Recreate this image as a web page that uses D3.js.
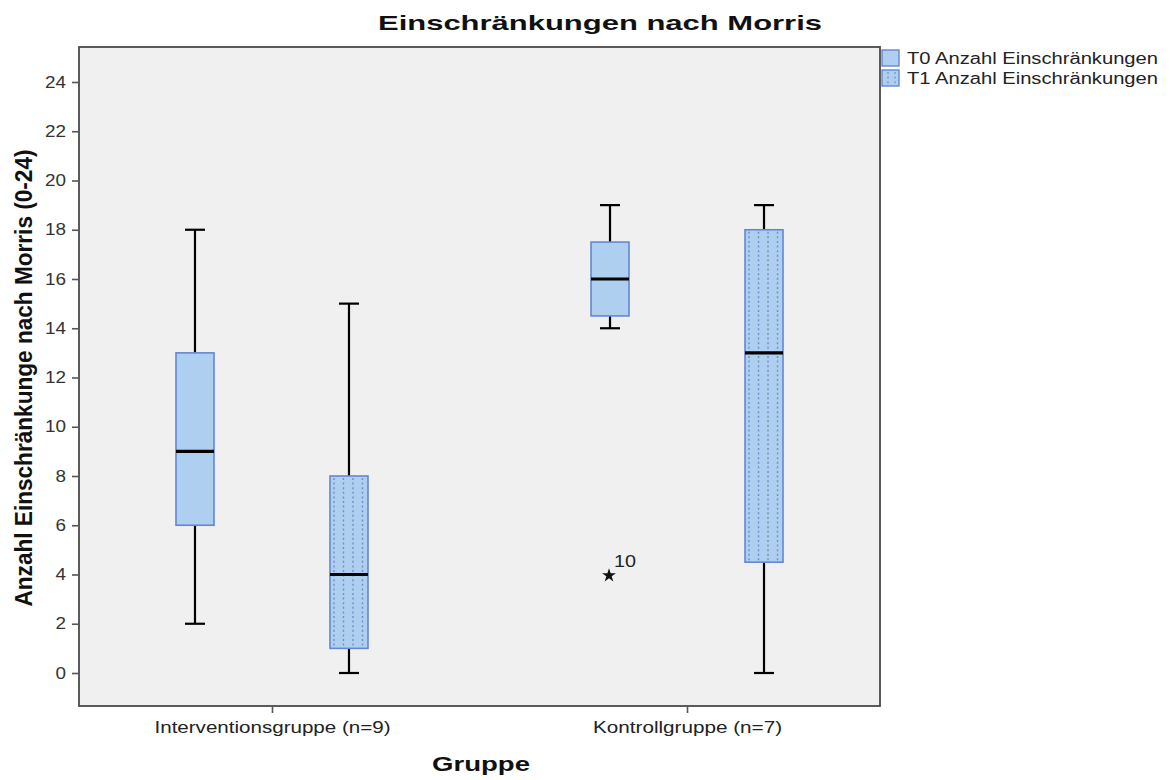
<!DOCTYPE html>
<html>
<head>
<meta charset="utf-8">
<script src="https://cdn.jsdelivr.net/npm/d3@7"></script>
<style>
  body { margin: 0; background: #ffffff; }
  text { font-family: "Liberation Sans", Arial, sans-serif; }
</style>
</head>
<body>
<svg id="chart" width="1170" height="780"></svg>
<script>
// Groups and series
const groups = ["Interventionsgruppe (n=9)", "Kontrollgruppe (n=7)"];
const seriesNames = ["T0 Anzahl Einschränkungen", "T1 Anzahl Einschränkungen"];
const seriesKeys = ["T0", "T1"];

// Box statistics per group: [lower whisker, Q1, median, Q3, upper whisker]
const t0Stats = [[2, 6, 9, 13, 18], [14, 14.5, 16, 17.5, 19]];
const t1Stats = [[0, 1, 4, 8, 15], [0, 4.5, 13, 18, 19]];

// Extreme values (case number shown next to the star)
const extremeGroups = ["Kontrollgruppe (n=7)"];
const extremeSeries = ["T0"];
const extremeValues = [4];
const extremeCases = ["10"];

const yTicks = [0, 2, 4, 6, 8, 10, 12, 14, 16, 18, 20, 22, 24];

const title = "Einschränkungen nach Morris";
const yTitle = "Anzahl Einschränkunge nach Morris (0-24)";
const xTitle = "Gruppe";

// ---- layout ----
const frame = { left: 79, right: 880, top: 47, bottom: 706 };
const boxWidth = 38;
const capWidth = 20;
const fillColor = "#aecff0";
const strokeColor = "#6487d3";
const dotColor = "#6f8fc4";

const svg = d3.select("#chart");

const y = d3.scaleLinear().domain([0, 24]).range([673, 82]);
const x = d3.scalePoint().domain(groups).range([frame.left, frame.right]).padding(0.465);
const offset = d3.scalePoint().domain(seriesKeys).range([-77, 77]);

// plot area
svg.append("rect")
  .attr("x", frame.left).attr("y", frame.top)
  .attr("width", frame.right - frame.left).attr("height", frame.bottom - frame.top)
  .attr("fill", "#f0f0f0").attr("stroke", "#4a4a4a").attr("stroke-width", 1.8);

// y axis
const yAxis = d3.axisLeft(y).tickValues(yTicks).tickSize(7).tickPadding(6).tickFormat(d3.format("d"));
const gy = svg.append("g").attr("transform", `translate(${frame.left},0)`).call(yAxis);
gy.select(".domain").remove();
gy.selectAll(".tick line").attr("stroke", "#555").attr("stroke-width", 1.6);
gy.selectAll(".tick text")
  .attr("font-size", 16).attr("fill", "#333")
  .attr("textLength", d => String(d).length * 10.5)
  .attr("lengthAdjust", "spacingAndGlyphs")
  .attr("font-family", "'Liberation Sans', Arial, sans-serif");

// x axis
const xAxis = d3.axisBottom(x).tickSize(7).tickPadding(9);
const gx = svg.append("g").attr("transform", `translate(0,${frame.bottom})`).call(xAxis);
gx.select(".domain").remove();
gx.selectAll(".tick line").attr("stroke", "#555").attr("stroke-width", 1.6);
const xLabelWidths = [236, 189];
gx.selectAll(".tick text")
  .attr("font-size", 16).attr("fill", "#222")
  .attr("textLength", (d, i) => xLabelWidths[i])
  .attr("lengthAdjust", "spacingAndGlyphs")
  .attr("font-family", "'Liberation Sans', Arial, sans-serif");

// ---- boxes ----
const boxes = [];
groups.forEach((g, gi) => {
  boxes.push({ group: g, key: "T0", stats: t0Stats[gi], dotted: false });
  boxes.push({ group: g, key: "T1", stats: t1Stats[gi], dotted: true });
});

const bg = svg.append("g");
boxes.forEach(b => {
  const cx = x(b.group) + offset(b.key);
  const [lo, q1, med, q3, hi] = b.stats;
  const g = bg.append("g");

  // whiskers
  g.append("line").attr("x1", cx).attr("x2", cx).attr("y1", y(hi)).attr("y2", y(q3))
    .attr("stroke", "#000").attr("stroke-width", 2.2);
  g.append("line").attr("x1", cx).attr("x2", cx).attr("y1", y(q1)).attr("y2", y(lo))
    .attr("stroke", "#000").attr("stroke-width", 2.2);
  [lo, hi].forEach(v => {
    g.append("line").attr("x1", cx - capWidth / 2).attr("x2", cx + capWidth / 2)
      .attr("y1", y(v)).attr("y2", y(v)).attr("stroke", "#000").attr("stroke-width", 2.2);
  });

  // box
  const bx = cx - boxWidth / 2;
  g.append("rect").attr("x", bx).attr("y", y(q3))
    .attr("width", boxWidth).attr("height", y(q1) - y(q3))
    .attr("fill", fillColor).attr("stroke", strokeColor).attr("stroke-width", 1.6);

  // dotted fill for T1
  if (b.dotted) {
    [4, 13.5, 23, 32.5].forEach(dx => {
      g.append("line").attr("x1", bx + dx).attr("x2", bx + dx)
        .attr("y1", y(q3) + 2).attr("y2", y(q1) - 1)
        .attr("stroke", dotColor).attr("stroke-width", 1.4)
        .attr("stroke-dasharray", "2,2.6");
    });
  }

  // median
  g.append("line").attr("x1", bx).attr("x2", bx + boxWidth)
    .attr("y1", y(med)).attr("y2", y(med))
    .attr("stroke", "#000").attr("stroke-width", 3.2);
});

// extreme values
extremeValues.forEach((v, i) => {
  const cx = x(extremeGroups[i]) + offset(extremeSeries[i]);
  svg.append("path")
    .attr("d", d3.symbol(d3.symbolStar, 60)())
    .attr("transform", `translate(${cx - 1},${y(v) + 1})`)
    .attr("fill", "#111");
  svg.append("text")
    .attr("x", cx + 4).attr("y", y(v) - 8)
    .attr("font-size", 16).attr("fill", "#222")
    .attr("textLength", 22).attr("lengthAdjust", "spacingAndGlyphs")
    .text(extremeCases[i]);
});

// ---- titles ----
svg.append("text")
  .attr("x", 600).attr("y", 30).attr("text-anchor", "middle")
  .attr("font-size", 21).attr("font-weight", "bold").attr("fill", "#111")
  .attr("textLength", 444).attr("lengthAdjust", "spacingAndGlyphs")
  .text(title);

svg.append("text")
  .attr("x", 481).attr("y", 771).attr("text-anchor", "middle")
  .attr("font-size", 20).attr("font-weight", "bold").attr("fill", "#111")
  .attr("textLength", 98).attr("lengthAdjust", "spacingAndGlyphs")
  .text(xTitle);

svg.append("text")
  .attr("transform", "translate(32,378) scale(1.3,1) rotate(-90)")
  .attr("text-anchor", "middle")
  .attr("font-size", 19).attr("font-weight", "bold").attr("fill", "#111")
  .attr("textLength", 457).attr("lengthAdjust", "spacingAndGlyphs")
  .text(yTitle);

// ---- legend ----
const legend = svg.append("g");
seriesNames.forEach((name, i) => {
  const ly = 50 + i * 20;
  legend.append("rect").attr("x", 882).attr("y", ly)
    .attr("width", 17).attr("height", 16)
    .attr("fill", fillColor).attr("stroke", strokeColor).attr("stroke-width", 1.4);
  if (i === 1) {
    [6, 13].forEach(dx => {
      legend.append("line").attr("x1", 882 + dx).attr("x2", 882 + dx)
        .attr("y1", ly + 2).attr("y2", ly + 15)
        .attr("stroke", dotColor).attr("stroke-width", 1.2).attr("stroke-dasharray", "2,2.6");
    });
  }
  legend.append("text").attr("x", 907).attr("y", ly + 14)
    .attr("font-size", 16).attr("fill", "#222")
    .attr("textLength", 251).attr("lengthAdjust", "spacingAndGlyphs")
    .text(name);
});
</script>
</body>
</html>
